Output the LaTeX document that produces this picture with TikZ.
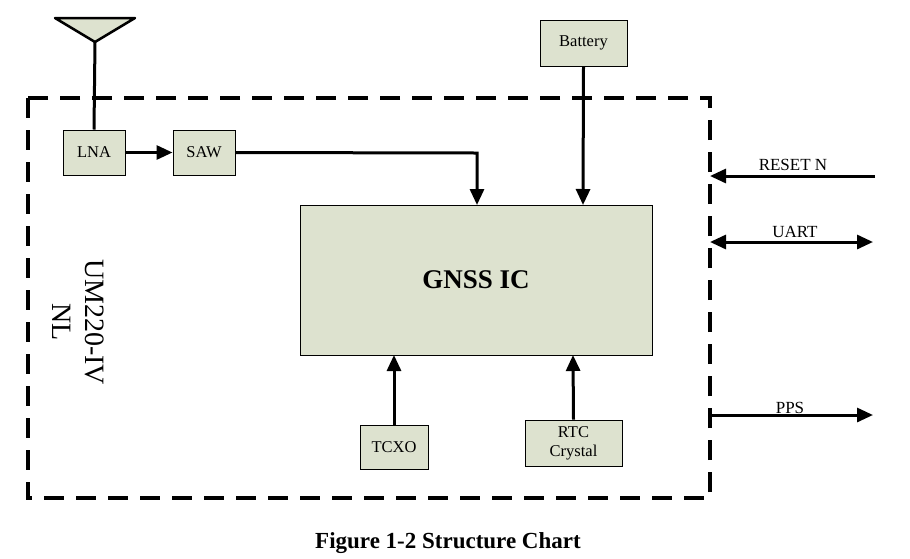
\documentclass[tikz,border=0pt]{standalone}
\usepackage{fontspec}
\setmainfont{Liberation Serif}
\usetikzlibrary{arrows.meta}
\definecolor{boxfill}{HTML}{DDE2CF}
\begin{document}
\begin{tikzpicture}[x=1pt,y=-1pt,
  blk/.style={draw,fill=boxfill,line width=1pt,inner sep=0pt,font=\fontsize{16.5}{19}\selectfont,align=center},
  wire/.style={line width=3pt},
  arr/.style={wire,-{Triangle[length=16pt,width=14pt]}},
  darr/.style={wire,{Triangle[length=16pt,width=14pt]}-{Triangle[length=16pt,width=14pt]}},
  lbl/.style={font=\fontsize{17}{19}\selectfont}]
\useasboundingbox (0,0) rectangle (910,558);
\draw[line width=3.2pt,dash pattern=on 20pt off 12pt] (28,98) rectangle (710,498);
\node[blk,minimum width=62pt,minimum height=45pt] (lna) at (94,152.5) {LNA};
\node[blk,minimum width=62pt,minimum height=45pt] (saw) at (204,152.5) {SAW};
\node[blk,minimum width=87pt,minimum height=46pt] (bat) at (583.5,43) {Battery};
\node[blk,minimum width=352pt,minimum height=150pt,font=\fontsize{27}{32}\selectfont\bfseries] (ic) at (476,280) {GNSS IC};
\node[blk,minimum width=68pt,minimum height=44pt] (tcxo) at (394,447) {TCXO};
\node[blk,minimum width=97pt,minimum height=46pt,font=\fontsize{16.5}{19}\selectfont] (rtc) at (573.5,443) {RTC\\Crystal};
\draw[fill=boxfill,line width=2.5pt,line join=round] (55,18) -- (135,18) -- (95,42) -- cycle;
\coordinate (ant) at (95,42);
\draw[wire] (ant) -- (lna.north);
\draw[arr] (lna.east) -- (saw.west);
\draw[arr] (saw.east) -- (477,153) -- (477,205);
\draw[arr] (bat.south) -- (583,205);
\draw[arr] (tcxo.north) -- (394,355);
\draw[arr] (rtc.north) -- (573,355);
\coordinate (rs) at (875,176); \coordinate (re) at (710,176);
\draw[arr] (rs) -- (re);
\node[lbl] (rl) at (793,165) {RESET N};
\coordinate (us) at (710,242); \coordinate (ue) at (873,242);
\draw[darr] (us) -- (ue);
\node[lbl] (ul) at (795,232) {UART};
\coordinate (ps) at (710,415); \coordinate (pe) at (873,415);
\draw[arr] (ps) -- (pe);
\node[lbl] (pl) at (790,408) {PPS};
\node[rotate=-90,font=\fontsize{28}{33}\selectfont,align=center] (um) at (78,322) {UM220-IV\\NL};
\node[font=\fontsize{23}{27}\selectfont\bfseries] (cap) at (448,543) {Figure 1-2 Structure Chart};
\end{tikzpicture}
\end{document}
